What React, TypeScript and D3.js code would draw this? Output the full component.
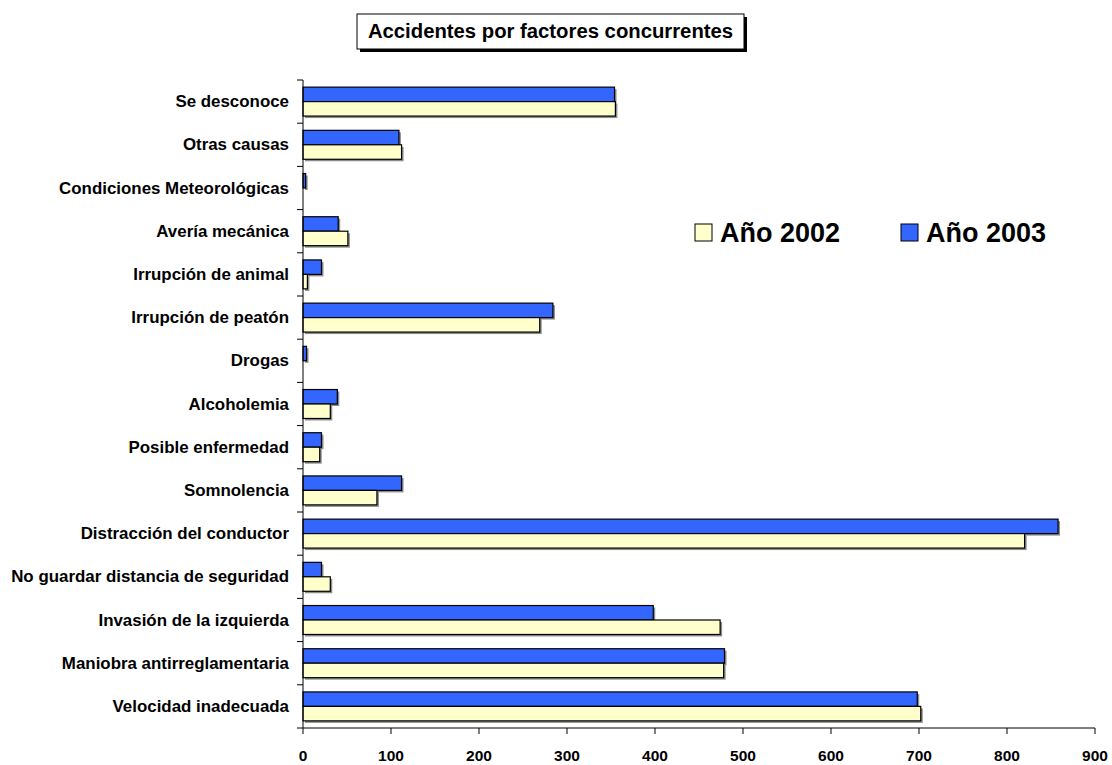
import React from "react";
import * as d3 from "d3";

const categories = [
  "Se desconoce",
  "Otras causas",
  "Condiciones Meteorológicas",
  "Avería mecánica",
  "Irrupción de animal",
  "Irrupción de peatón",
  "Drogas",
  "Alcoholemia",
  "Posible enfermedad",
  "Somnolencia",
  "Distracción del conductor",
  "No guardar distancia de seguridad",
  "Invasión de la izquierda",
  "Maniobra antirreglamentaria",
  "Velocidad inadecuada",
];
const values2003 = [354, 109, 3, 40, 21, 284, 4, 39, 21, 112, 858, 21, 398, 479, 698];
const values2002 = [355, 112, 0, 51, 5, 269, 0, 31, 19, 84, 820, 31, 474, 478, 702];
const xTicks = [0, 100, 200, 300, 400, 500, 600, 700, 800, 900];
const seriesNames = ["Año 2003", "Año 2002"];
const legendNames = ["Año 2002", "Año 2003"];
const title = "Accidentes por factores concurrentes";

const W = 1112;
const H = 765;
const FONT = "Liberation Sans, Arial, sans-serif";
const colors: Record<string, string> = { "Año 2003": "#3366FF", "Año 2002": "#FFFFCC" };

export default function App() {
  const x = d3.scaleLinear().domain([0, 900]).range([303, 1095]);
  const y = d3
    .scaleBand<string>()
    .domain(categories)
    .range([80, 728])
    .paddingInner(0.33)
    .paddingOuter(0.165);
  const sub = d3.scaleBand<string>().domain(seriesNames).range([0, y.bandwidth()]);
  const step = y.step();
  const boundaries = d3.range(categories.length + 1).map((i) => 80 + i * step);
  const data: Record<string, number[]> = { "Año 2003": values2003, "Año 2002": values2002 };

  return (
    <svg
      width={W}
      height={H}
      style={{ position: "fixed", left: 0, top: 0, background: "#fff" }}
      fontFamily={FONT}
    >
      {/* title box */}
      <rect x={360} y={17} width={387} height={35} fill="#000" />
      <rect x={357} y={14} width={387} height={35} fill="#fff" stroke="#000" strokeWidth={1} />
      <text x={550.5} y={38} textAnchor="middle" fontSize={20.3} fontWeight="bold" fill="#000">
        {title}
      </text>

      {/* bars */}
      {seriesNames.map((s) =>
        categories.map((c, i) => {
          const v = data[s][i];
          if (v <= 0) return null;
          const y0 = (y(c) as number) + (sub(s) as number);
          const h = sub.bandwidth();
          const w = x(v) - x(0);
          return (
            <g key={s + c}>
              <rect x={x(0) + 2} y={y0 + 2} width={w} height={h} fill="#000" opacity={0.45} />
              <rect x={x(0)} y={y0} width={w} height={h} fill={colors[s]} stroke="#000" strokeWidth={1.2} />
            </g>
          );
        })
      )}

      {/* y axis */}
      <line x1={303} x2={303} y1={80} y2={728} stroke="#000" strokeWidth={1} />
      {boundaries.map((b, i) => (
        <line key={"yt" + i} x1={297} x2={303} y1={b} y2={b} stroke="#000" strokeWidth={1} />
      ))}
      {categories.map((c) => (
        <text
          key={"lbl" + c}
          x={289}
          y={(y(c) as number) + y.bandwidth() / 2 + 5.5}
          textAnchor="end"
          fontSize={16.9}
          fontWeight="bold"
          fill="#000"
        >
          {c}
        </text>
      ))}

      {/* x axis */}
      <line x1={x(0)} x2={x(900)} y1={728} y2={728} stroke="#000" strokeWidth={1} />
      {xTicks.map((t) => (
        <g key={"xt" + t}>
          <line x1={x(t)} x2={x(t)} y1={728} y2={734} stroke="#000" strokeWidth={1} />
          <text x={x(t)} y={761} textAnchor="middle" fontSize={15.5} fontWeight="bold" fill="#000">
            {t}
          </text>
        </g>
      ))}

      {/* legend */}
      {legendNames.map((n, i) => {
        const lx = i === 0 ? 695 : 901;
        return (
          <g key={"lg" + n}>
            <rect x={lx} y={224} width={17} height={17} fill={colors[n]} stroke="#000" strokeWidth={1} />
            <text x={lx + 25} y={242} fontSize={27} fontWeight="bold" fill="#000">
              {n}
            </text>
          </g>
        );
      })}
    </svg>
  );
}
